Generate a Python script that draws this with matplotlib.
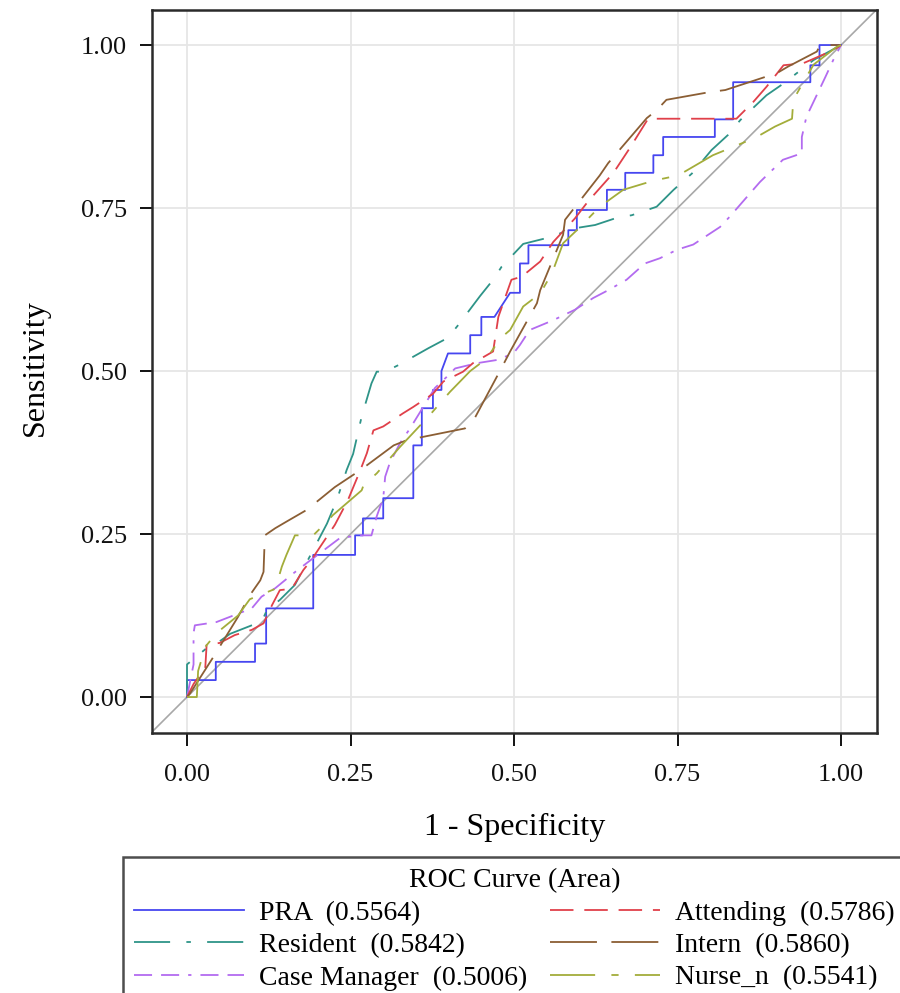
"""
ROC curves for six raters (PRA, Resident, Case Manager, Attending, Intern, Nurse_n)
saved as out.png
"""

import matplotlib
matplotlib.use("Agg")
import matplotlib.pyplot as plt

# ─────────────────────────────────────────────────────────────
# data
# ─────────────────────────────────────────────────────────────

PRA_X = [0, 0, 0.044, 0.044, 0.104, 0.104, 0.121, 0.121, 0.193, 0.193, 0.257, 0.257,
         0.269, 0.269, 0.300, 0.300, 0.346, 0.346, 0.359, 0.359, 0.376, 0.376, 0.389,
         0.389, 0.399, 0.433, 0.433, 0.450, 0.450, 0.470, 0.494, 0.509, 0.509, 0.522,
         0.522, 0.583, 0.583, 0.596, 0.596, 0.642, 0.642, 0.670, 0.670, 0.713, 0.713,
         0.728, 0.728, 0.807, 0.807, 0.835, 0.835, 0.953, 0.953, 0.967, 0.967, 1.0]
PRA_Y = [0, 0.026, 0.026, 0.054, 0.054, 0.082, 0.082, 0.136, 0.136, 0.218, 0.218, 0.248,
         0.248, 0.274, 0.274, 0.305, 0.305, 0.386, 0.386, 0.443, 0.443, 0.471, 0.471,
         0.500, 0.527, 0.527, 0.555, 0.555, 0.583, 0.583, 0.620, 0.620, 0.665, 0.665,
         0.693, 0.693, 0.716, 0.716, 0.747, 0.747, 0.778, 0.778, 0.804, 0.804, 0.831,
         0.831, 0.859, 0.859, 0.886, 0.886, 0.943, 0.943, 0.969, 0.969, 1.0, 1.0]

RES_X = [0, 0, 0.030, 0.045, 0.066, 0.099, 0.114, 0.122, 0.142, 0.165, 0.190, 0.214,
         0.229, 0.244, 0.254, 0.267, 0.282, 0.290, 0.303, 0.323, 0.369, 0.399, 0.415,
         0.448, 0.468, 0.481, 0.514, 0.550, 0.593, 0.624, 0.657, 0.680, 0.718, 0.744,
         0.772, 0.802, 0.827, 0.846, 0.886, 0.912, 0.958, 1.0]
RES_Y = [0, 0.050, 0.075, 0.082, 0.097, 0.110, 0.115, 0.133, 0.149, 0.172, 0.220, 0.266,
         0.302, 0.348, 0.373, 0.430, 0.481, 0.499, 0.499, 0.509, 0.535, 0.551, 0.571,
         0.615, 0.640, 0.660, 0.695, 0.704, 0.719, 0.724, 0.735, 0.739, 0.752, 0.778,
         0.803, 0.839, 0.862, 0.885, 0.923, 0.941, 0.977, 1.0]

CM_X = [0, 0.010, 0.010, 0.012, 0.045, 0.099, 0.114, 0.135, 0.163, 0.185, 0.234, 0.265,
        0.282, 0.290, 0.300, 0.303, 0.310, 0.326, 0.341, 0.379, 0.397, 0.410, 0.443,
        0.474, 0.499, 0.509, 0.524, 0.560, 0.593, 0.621, 0.644, 0.672, 0.700, 0.723,
        0.749, 0.774, 0.815, 0.830, 0.856, 0.876, 0.911, 0.940, 0.940, 0.947, 0.976,
        0.988, 1.0]
CM_Y = [0, 0.050, 0.098, 0.110, 0.115, 0.136, 0.154, 0.167, 0.190, 0.207, 0.244, 0.248,
        0.248, 0.277, 0.305, 0.338, 0.359, 0.390, 0.412, 0.474, 0.491, 0.504, 0.512,
        0.517, 0.527, 0.540, 0.563, 0.578, 0.594, 0.612, 0.624, 0.640, 0.665, 0.673,
        0.686, 0.694, 0.721, 0.737, 0.767, 0.790, 0.824, 0.834, 0.859, 0.890, 0.951,
        0.977, 1.0]

ATT_X = [0, 0.010, 0.028, 0.030, 0.050, 0.073, 0.099, 0.117, 0.130, 0.142, 0.160, 0.178,
         0.190, 0.214, 0.226, 0.246, 0.265, 0.275, 0.285, 0.300, 0.330, 0.346, 0.376,
         0.392, 0.422, 0.437, 0.468, 0.476, 0.496, 0.512, 0.540, 0.560, 0.593, 0.613,
         0.652, 0.677, 0.705, 0.840, 0.866, 0.886, 0.912, 0.942, 0.988, 1.0]
ATT_Y = [0, 0.020, 0.046, 0.080, 0.083, 0.095, 0.103, 0.113, 0.141, 0.164, 0.166, 0.195,
         0.210, 0.246, 0.264, 0.302, 0.348, 0.374, 0.409, 0.415, 0.435, 0.445, 0.465,
         0.484, 0.499, 0.512, 0.530, 0.583, 0.640, 0.645, 0.668, 0.698, 0.734, 0.760,
         0.804, 0.842, 0.887, 0.887, 0.913, 0.936, 0.969, 0.972, 0.992, 1.0]

INT_X = [0, 0.005, 0.040, 0.078, 0.096, 0.112, 0.117, 0.119, 0.135, 0.152, 0.183, 0.226,
         0.265, 0.316, 0.336, 0.425, 0.440, 0.481, 0.494, 0.535, 0.540, 0.575, 0.578,
         0.631, 0.644, 0.703, 0.718, 0.733, 0.800, 0.823, 0.902, 0.919, 0.963, 0.968, 1.0]
INT_Y = [0, 0.006, 0.061, 0.123, 0.156, 0.179, 0.192, 0.248, 0.259, 0.269, 0.287, 0.322,
         0.348, 0.386, 0.394, 0.412, 0.428, 0.505, 0.530, 0.604, 0.624, 0.709, 0.732,
         0.800, 0.819, 0.888, 0.900, 0.916, 0.928, 0.931, 0.957, 0.967, 0.990, 1.0, 1.0]

NUR_X = [0, 0.015, 0.017, 0.028, 0.045, 0.078, 0.096, 0.135, 0.145, 0.152, 0.165, 0.193,
         0.214, 0.223, 0.267, 0.270, 0.290, 0.326, 0.369, 0.382, 0.402, 0.433, 0.458,
         0.479, 0.494, 0.514, 0.540, 0.558, 0.575, 0.596, 0.631, 0.667, 0.700, 0.718,
         0.751, 0.804, 0.850, 0.871, 0.899, 0.925, 0.927, 0.940, 0.958, 0.993, 1.0]
NUR_Y = [0, 0, 0.040, 0.077, 0.098, 0.125, 0.150, 0.166, 0.200, 0.218, 0.248, 0.248,
         0.269, 0.279, 0.317, 0.325, 0.343, 0.384, 0.430, 0.445, 0.468, 0.500, 0.519,
         0.550, 0.563, 0.599, 0.619, 0.650, 0.696, 0.716, 0.752, 0.778, 0.788, 0.793,
         0.800, 0.831, 0.850, 0.859, 0.875, 0.887, 0.916, 0.939, 0.970, 0.997, 1.0]

LABELS = ["PRA  (0.5564)", "Resident  (0.5842)", "Case Manager  (0.5006)",
          "Attending  (0.5786)", "Intern  (0.5860)", "Nurse_n  (0.5541)"]
TICKS = [0.0, 0.25, 0.5, 0.75, 1.0]

# ─────────────────────────────────────────────────────────────
# style
# ─────────────────────────────────────────────────────────────
plt.rcParams["font.family"] = ["Liberation Serif", "DejaVu Serif"]

STYLES = [
    dict(color="#4646F0", linestyle="-"),
    dict(color="#2E9488", linestyle=(0, (20, 9, 2.5, 9))),
    dict(color="#B36BF0", linestyle=(0, (10, 5, 10, 5, 1.8, 5))),
    dict(color="#E0404A", linestyle=(0, (13, 6))),
    dict(color="#8B5E34", linestyle=(0, (26, 8))),
    dict(color="#A3AD3A", linestyle=(0, (25, 9, 4, 9))),
]

LW = 1.3
LEG_FS = 20


def plot_roc():
    fig = plt.figure(figsize=(9.0, 9.93), dpi=100)
    ax = fig.add_axes([0.1689, 0.2618, 0.8056, 0.7281])

    ax.axline((0, 0), (1, 1), color="#A8A8A8", linewidth=1.2, zorder=1)

    curves = [(PRA_X, PRA_Y), (RES_X, RES_Y), (CM_X, CM_Y),
              (ATT_X, ATT_Y), (INT_X, INT_Y), (NUR_X, NUR_Y)]
    handles = []
    for (xs, ys), label, st in zip(curves, LABELS, STYLES):
        line, = ax.plot(xs, ys, linewidth=LW, label=label, zorder=3, **st)
        handles.append(line)

    ax.set_xlim(-0.0535, 1.055)
    ax.set_ylim(-0.0552, 1.0537)
    ax.set_xticks(TICKS)
    ax.set_yticks(TICKS)
    ax.set_xticklabels([f"{t:.2f}" for t in TICKS])
    ax.set_yticklabels([f"{t:.2f}" for t in TICKS])
    ax.tick_params(axis="both", direction="out", length=9, width=1.4,
                   labelsize=19, pad=9, colors="#111111")
    ax.tick_params(axis="x", pad=13)
    ax.grid(True, color="#E6E6E6", linewidth=1.3)
    ax.set_axisbelow(True)
    for sp in ax.spines.values():
        sp.set_color("#2a2a2a")
        sp.set_linewidth(1.8)

    # axis titles placed by their centres
    ax.set_xlabel("1 - Specificity", fontsize=23, va="center")
    ax.xaxis.set_label_coords(0.5, (733 - 827) / 723)
    ax.set_ylabel("Sensitivity", fontsize=23, va="center")
    ax.yaxis.set_label_coords((35 - 152) / 725, (733 - 368) / 723)

    em = LEG_FS * 100 / 72
    leg = fig.legend(handles=handles, loc="upper left",
                     bbox_to_anchor=(122.7 / 900, 1 - 856.7 / 993),
                     ncol=2, fontsize=LEG_FS, title="ROC Curve (Area)",
                     title_fontsize=LEG_FS, frameon=True, fancybox=False,
                     edgecolor="#222222", handlelength=110 / em,
                     handletextpad=15 / em, columnspacing=22 / em,
                     labelspacing=0.25, borderpad=0.42, borderaxespad=0)
    leg.get_frame().set_linewidth(1.8)

    fig.savefig("out.png", dpi=100)
    plt.close(fig)


if __name__ == "__main__":
    plot_roc()
